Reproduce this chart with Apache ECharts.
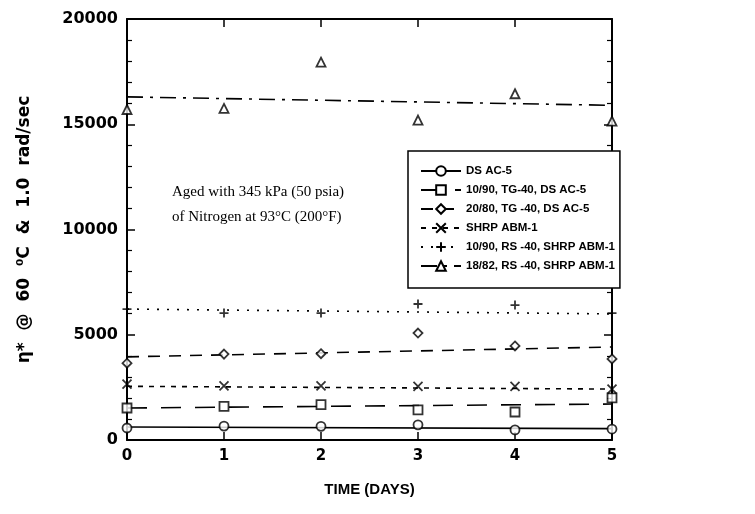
<!DOCTYPE html>
<html>
<head>
<meta charset="utf-8">
<script src="https://cdn.jsdelivr.net/npm/echarts@6/dist/echarts.min.js"></script>
<style>
  html, body { margin: 0; padding: 0; background: #fff; }
  #chart { width: 755px; height: 514px; }
</style>
</head>
<body>
<div id="chart"></div>
<script>
// days on the x axis
const days = [0, 1, 2, 3, 4, 5]

// measured points, one array per blend
const dsAc5 = [570, 660, 650, 720, 480, 520]
const tg10 = [1520, 1600, 1680, 1430, 1330, 2000]
const tg20 = [3650, 4080, 4100, 5080, 4470, 3850]
const shrp = [2650, 2570, 2570, 2550, 2550, 2420]
const rs10 = [6220, 6030, 6030, 6460, 6410, 6030]
const rs18 = [15700, 15750, 17950, 15200, 16450, 15150]

// fitted lines, value at day 0 and day 5
const fitDays = [0, 5]
const dsAc5Fit = [620, 540]
const tg10Fit = [1520, 1710]
const tg20Fit = [3950, 4420]
const shrpFit = [2550, 2420]
const rs10Fit = [6220, 5990]
const rs18Fit = [16300, 15900]

const names = [
  'DS AC-5',
  '10/90, TG-40, DS AC-5',
  '20/80, TG -40, DS AC-5',
  'SHRP ABM-1',
  '10/90, RS -40, SHRP ABM-1',
  '18/82, RS -40, SHRP ABM-1'
]

const crossPath = 'path://M0,0L10,10M10,0L0,10'
const plusPath = 'path://M5,0L5,10M0,5L10,5'

const sets = [
  { pts: dsAc5, fit: dsAc5Fit, symbol: 'circle', dash: 'solid' },
  { pts: tg10, fit: tg10Fit, symbol: 'rect', dash: [20, 14] },
  { pts: tg20, fit: tg20Fit, symbol: 'diamond', dash: [12, 9] },
  { pts: shrp, fit: shrpFit, symbol: crossPath, dash: [5, 6] },
  { pts: rs10, fit: rs10Fit, symbol: plusPath, dash: [2, 8] },
  { pts: rs18, fit: rs18Fit, symbol: 'triangle', dash: [16, 7, 3, 7] }
]

const series = []
sets.forEach((s, i) => {
  // fitted line (carries the legend entry)
  series.push({
    name: names[i],
    type: 'line',
    data: fitDays.map((d, k) => [d, s.fit[k]]),
    symbol: s.symbol,
    symbolSize: 9,
    showSymbol: false,
    silent: true,
    lineStyle: { color: '#000', width: 1.6, type: s.dash },
    itemStyle: { color: '#fff', borderColor: '#000', borderWidth: 1.6 },
    z: 2
  })
  // measured points
  series.push({
    name: names[i] + ' pts',
    type: 'scatter',
    data: days.map((d, k) => [d, s.pts[k]]),
    symbol: s.symbol,
    symbolSize: 9,
    itemStyle: { color: '#fff', borderColor: '#000', borderWidth: 1.8 },
    z: 3
  })
})

const axisFont = {
  color: '#000',
  fontFamily: 'DejaVu Sans',
  fontWeight: 'bold',
  fontSize: 16
}

const frameLine = { onZero: false, lineStyle: { color: '#000', width: 2 } }
const frameTick = { inside: true, length: 8, lineStyle: { color: '#000', width: 1.5 } }
const minor = { show: true, splitNumber: 5, length: 5, lineStyle: { color: '#000', width: 1.2 } }

const chart = echarts.init(document.getElementById('chart'))
chart.setOption({
  animation: false,
  backgroundColor: '#fff',
  grid: { left: 127, right: 143, top: 19, bottom: 74 },
  xAxis: [
    {
      type: 'value',
      min: 0,
      max: 5,
      interval: 1,
      name: 'TIME (DAYS)',
      nameLocation: 'middle',
      nameGap: 42,
      nameTextStyle: { color: '#000', fontFamily: 'Liberation Sans', fontWeight: 'bold', fontSize: 15 },
      axisLine: frameLine,
      axisTick: frameTick,
      axisLabel: { ...axisFont, fontSize: 15, margin: 9 },
      splitLine: { show: false }
    },
    {
      type: 'value',
      position: 'top',
      min: 0,
      max: 5,
      interval: 1,
      axisLine: frameLine,
      axisTick: frameTick,
      axisLabel: { show: false },
      splitLine: { show: false }
    }
  ],
  yAxis: [
    {
      type: 'value',
      min: 0,
      max: 20000,
      interval: 5000,
      name: 'η*  @  60  ⁰C  &  1.0  rad/sec',
      nameLocation: 'middle',
      nameGap: 94,
      nameTextStyle: { ...axisFont, fontSize: 17 },
      axisLine: frameLine,
      axisTick: frameTick,
      minorTick: minor,
      axisLabel: { ...axisFont, margin: 9, formatter: v => String(v) },
      splitLine: { show: false }
    },
    {
      type: 'value',
      position: 'right',
      min: 0,
      max: 20000,
      interval: 5000,
      axisLine: frameLine,
      axisTick: frameTick,
      minorTick: minor,
      axisLabel: { show: false },
      splitLine: { show: false }
    }
  ],
  legend: {
    data: names,
    orient: 'vertical',
    left: 408,
    top: 151,
    padding: [14, 5, 16, 12],
    itemWidth: 40,
    itemHeight: 12,
    itemGap: 7,
    borderColor: '#000',
    borderWidth: 1.5,
    backgroundColor: '#fff',
    textStyle: { color: '#000', fontFamily: 'Liberation Sans', fontWeight: 'bold', fontSize: 11.5 }
  },
  graphic: [
    {
      type: 'text',
      left: 172,
      top: 180,
      style: {
        text: 'Aged with 345 kPa (50 psia)\nof Nitrogen at 93°C (200°F)',
        fontFamily: 'Liberation Serif',
        fontSize: 15,
        lineHeight: 25,
        fill: '#000'
      }
    }
  ],
  series: series
})
</script>
</body>
</html>
